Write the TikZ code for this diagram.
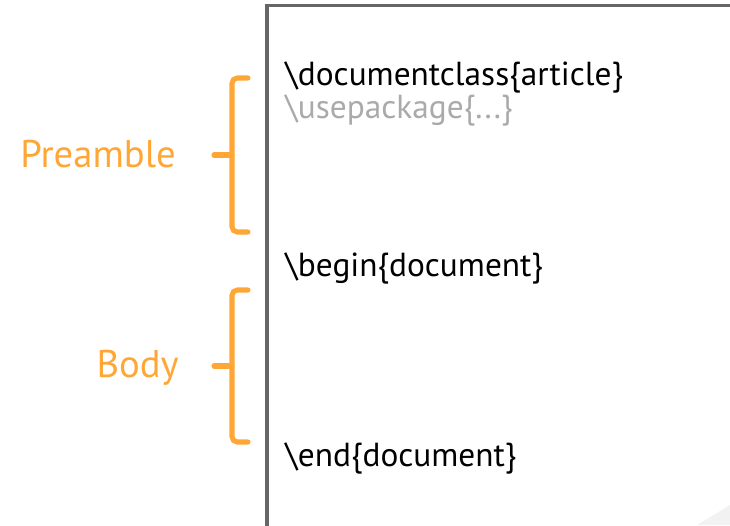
\documentclass[tikz,border=0pt]{standalone}
\usepackage{fontspec}
\setmainfont{PT Sans}
\definecolor{braceorange}{HTML}{FFA736}
\definecolor{pagegray}{HTML}{666666}
\definecolor{softgray}{HTML}{AAAAAA}
\definecolor{curlgray}{HTML}{F2F2F2}
\begin{document}
\begin{tikzpicture}[x=0.75pt,y=-0.75pt,
  bracestyle/.style={draw=braceorange,line width=3.8pt,rounded corners=4pt,line cap=round},
  codetext/.style={anchor=base west,inner sep=0pt,font=\fontsize{25}{30}\selectfont},
  labeltext/.style={anchor=base east,inner sep=0pt,text=braceorange,font=\fontsize{29}{34}\selectfont}]
\useasboundingbox (0,0) rectangle (730,525);
\begin{scope}
\clip (0,0) rectangle (730,525);
\fill[curlgray] (697,525) -- (730,505) -- (730,525) -- cycle;
\draw[pagegray,line width=2.4pt] (267,540) -- (267,5.5) -- (740,5.5);
\end{scope}
% braces
\draw[bracestyle] (248,78) -- (232,78) -- (232,232) -- (248,232);
\draw[bracestyle,rounded corners=0pt] (214,155) -- (232,155);
\draw[bracestyle] (248,290) -- (232,290) -- (232,442) -- (248,442);
\draw[bracestyle,rounded corners=0pt] (214,366) -- (232,366);
% labels
\node[labeltext] (pre) at (176,167) {Preamble};
\node[labeltext] (body) at (179,377) {Body};
% code
\node[codetext] (dc) at (285,85) {\textbackslash documentclass\{article\}};
\node[codetext,text=softgray] (up) at (285,118) {\textbackslash usepackage\{...\}};
\node[codetext] (bd) at (285,276) {\textbackslash begin\{document\}};
\node[codetext] (ed) at (285,466) {\textbackslash end\{document\}};
\end{tikzpicture}
\end{document}
